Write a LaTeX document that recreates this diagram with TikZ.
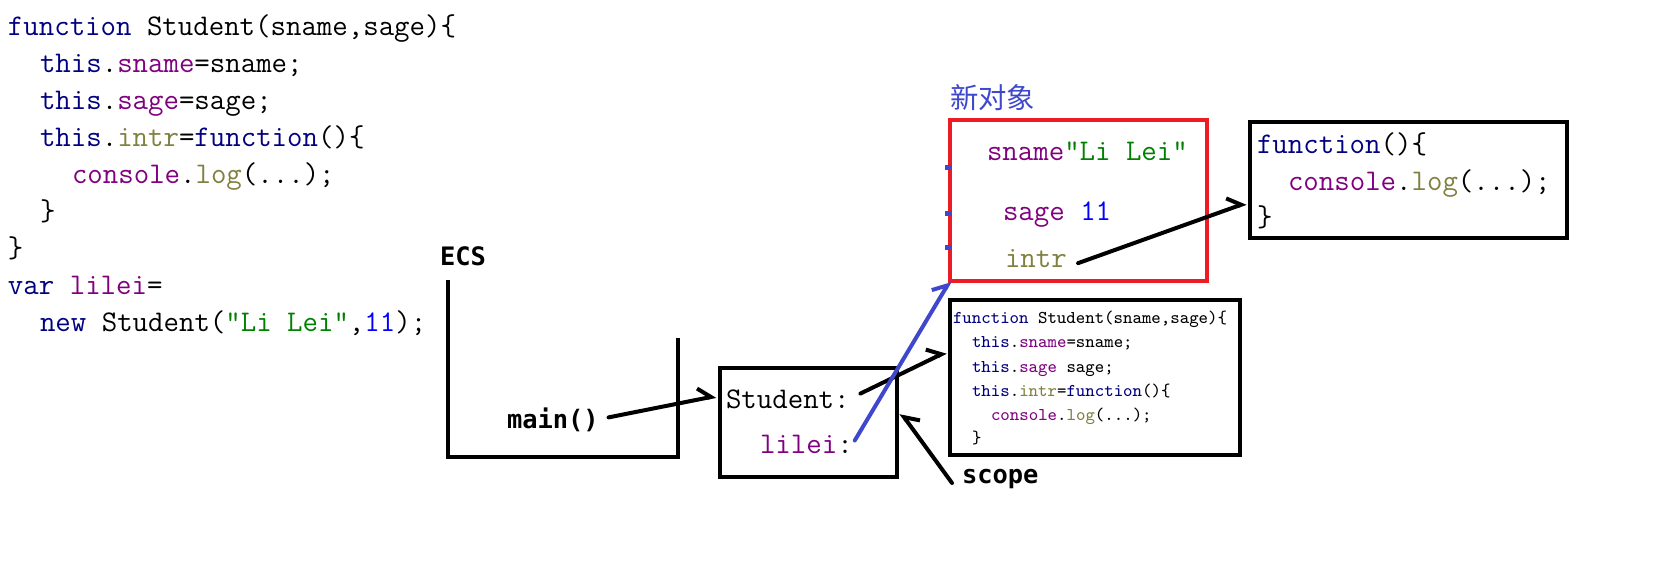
\documentclass[tikz,border=0pt]{standalone}
\usepackage{fontspec}
\newfontfamily\tagfont{DejaVu Sans Mono}
\newfontfamily\cjk{Noto Sans CJK SC}
\usetikzlibrary{arrows.meta, fit, positioning}

\definecolor{kwcol}{HTML}{000080}
\definecolor{propcol}{HTML}{800080}
\definecolor{methcol}{HTML}{808040}
\definecolor{strcol}{HTML}{008000}
\definecolor{numcol}{HTML}{0000FF}
\definecolor{paintred}{HTML}{ED1C24}
\definecolor{paintblue}{HTML}{3F48CC}

\newcommand{\kw}[1]{\textcolor{kwcol}{#1}}
\newcommand{\prop}[1]{\textcolor{propcol}{#1}}
\newcommand{\meth}[1]{\textcolor{methcol}{#1}}
\newcommand{\strlit}[1]{\textcolor{strcol}{#1}}
\newcommand{\numlit}[1]{\textcolor{numcol}{#1}}

\begin{document}
\begin{tikzpicture}[x=0.5pt, y=-0.5pt]
\tikzset{every node/.style={inner sep=0pt, outer sep=0pt}}

\tikzstyle{code line}=[anchor=base west, font=\ttfamily\fontsize{15}{18}\selectfont]
\tikzstyle{small line}=[anchor=base west, font=\ttfamily\fontsize{9}{11}\selectfont]
\tikzstyle{bold tag}=[anchor=base west, font=\tagfont\bfseries\fontsize{12.7}{15}\selectfont]
\tikzstyle{panel}=[draw, line width=2pt, inner sep=0pt]
\tikzstyle{object panel}=[panel, draw=paintred]
\tikzstyle{wall}=[line width=2pt]
\tikzstyle{link}=[line width=2pt, line cap=round, -{Straight Barb[length=6pt, width=11pt, left]}]
\tikzstyle{link right}=[line width=2pt, line cap=round, -{Straight Barb[length=6pt, width=11pt, right]}]
\tikzstyle{ref link}=[link, draw=paintblue]

\useasboundingbox (0,0) rectangle (1678,573);

% source code
\node[code line] (code 1) at (8,35) {\kw{function} Student(sname,sage)\{};
\node[code line] (code 2) at (40,72) {\kw{this}.\prop{sname}=sname;};
\node[code line] (code 3) at (40,109) {\kw{this}.\prop{sage}=sage;};
\node[code line] (code 4) at (40,146) {\kw{this}.\meth{intr}=\kw{function}()\{};
\node[code line] (code 5) at (72,183) {\prop{console}.\meth{log}(...);};
\node[code line] (code 6) at (40,220) {\}};
\node[code line] (code 7) at (8,257) {\}};
\node[code line] (code 8) at (8,294) {\kw{var} \prop{lilei}=};
\node[code line] (code 9) at (40,331) {\kw{new} Student(\strlit{"Li Lei"},\numlit{11});};

% execution context stack
\node[bold tag] (ecs) at (440,265) {ECS};
\coordinate (ecs top) at (448,280);
\coordinate (ecs right) at (678,338);
\draw[wall] (ecs top) |- (678,457) -- (ecs right);
\node[bold tag] (main) at (507,428) {main()};

% scope of Student
\node[panel, fit={(720,368) (897,477)}] (stu) {};
\node[code line] (stu label) at (726,408) {Student:};
\node[code line] (lilei) at (760,453) {\prop{lilei}:};

% constructor body
\node[panel, fit={(950,300) (1240,455)}] (ctor) {};
\node[small line] (ctor 1) at (953,323) {\kw{function} Student(sname,sage)\{};
\node[small line] (ctor 2) at (972,347) {\kw{this}.\prop{sname}=sname;};
\node[small line] (ctor 3) at (972,372) {\kw{this}.\prop{sage} sage;};
\node[small line] (ctor 4) at (972,396) {\kw{this}.\meth{intr}=\kw{function}()\{};
\node[small line] (ctor 5) at (991,420) {\prop{console}.\meth{log}(...);};
\node[small line] (ctor 6) at (972,443) {\}};
\node[bold tag] (scope) at (962,483) {scope};

% new object
\node[object panel, fit={(950,120) (1207,281)}] (obj) {};
\node[anchor=base west, font=\cjk\fontsize{14.2}{17}\selectfont, text=paintblue] (obj title) at (950,108) {新对象};
\node[code line] (sname) at (987,160) {\prop{sname}\strlit{"Li Lei"}};
\node[code line] (sage) at (1003,220) {\prop{sage} \numlit{11}};
\node[code line] (intr) at (1005,267) {\meth{intr}};
\foreach \y in {167,213,247}
    \fill[paintblue] (945,\y-2.5) rectangle (952,\y+2.5);

% shared function
\node[panel, fit={(1250,122) (1567,238)}] (func) {};
\node[code line] (func 1) at (1257,153) {\kw{function}()\{};
\node[code line] (func 2) at (1288,190) {\prop{console}.\meth{log}(...);};
\node[code line] (func 3) at (1257,226) {\}};

\coordinate (stu in) at (716,396);
\coordinate (ctor in) at (946,352);
\coordinate (func in) at (1246,203);
\coordinate (stu back) at (901,413);

\draw[link, shorten <=5pt] (main.east) -- (stu in);
\draw[link, shorten <=6pt] (stu label.east) -- (ctor in);
\draw[ref link, shorten <=2pt] (lilei.east) -- (obj.south west);
\draw[link, shorten <=6pt] (intr.south east) -- (func in);
\draw[link right] ([xshift=-5pt]scope.base west) -- (stu back);

\end{tikzpicture}
\end{document}
